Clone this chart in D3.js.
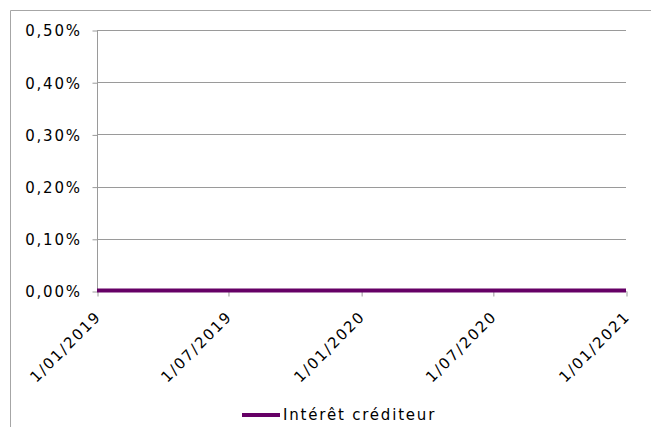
<!DOCTYPE html>
<html>
<head>
<meta charset="utf-8">
<script src="https://cdnjs.cloudflare.com/ajax/libs/d3/7.8.5/d3.min.js"></script>
<style>
  body { margin: 0; background: #fff; }
  svg { display: block; }
  text { font-family: "DejaVu Sans", Verdana, sans-serif; font-size: 15px; letter-spacing: 1.8px; fill: #000; }
</style>
</head>
<body>
<script>
// series: monthly dates and the credit interest rate (all zero)
const dates = ['2019-01-01', '2019-02-01', '2019-03-01', '2019-04-01', '2019-05-01', '2019-06-01',
    '2019-07-01', '2019-08-01', '2019-09-01', '2019-10-01', '2019-11-01', '2019-12-01',
    '2020-01-01', '2020-02-01', '2020-03-01', '2020-04-01', '2020-05-01', '2020-06-01',
    '2020-07-01', '2020-08-01', '2020-09-01', '2020-10-01', '2020-11-01', '2020-12-01',
    '2021-01-01'];
const rates = [0, 0, 0, 0, 0, 0, 0, 0, 0, 0, 0, 0, 0, 0, 0, 0, 0, 0, 0, 0, 0, 0, 0, 0, 0];
const xTicks = ['2019-01-01', '2019-07-01', '2020-01-01', '2020-07-01', '2021-01-01'];
const yTicks = [0, 0.001, 0.002, 0.003, 0.004, 0.005];
const seriesName = 'Intérêt créditeur';

const W = 651, H = 427;
const plot = { left: 97, right: 626, top: 30, bottom: 291 };
const parse = d3.timeParse('%Y-%m-%d');
const data = dates.map((d, i) => ({ date: parse(d), value: rates[i] }));

const svg = d3.select('body').append('svg')
    .attr('width', W)
    .attr('height', H);

// outer chart border (top and left only visible)
svg.append('path')
    .attr('d', `M10.5,${H} V10.5 H${W}`)
    .attr('fill', 'none')
    .attr('stroke', '#a6a6a6')
    .attr('stroke-width', 1);

const x = d3.scaleTime()
    .domain([parse(xTicks[0]), parse(xTicks[xTicks.length - 1])])
    .range([plot.left, plot.right]);
const y = d3.scaleLinear()
    .domain([0, 0.005])
    .range([plot.bottom, plot.top]);

const pct = (v) => d3.format('.2f')(v * 100).replace('.', ',') + '%';

// gridlines
svg.append('g').attr('class', 'grid')
    .selectAll('line').data(yTicks).join('line')
    .attr('x1', plot.left).attr('x2', plot.right)
    .attr('y1', (d) => Math.round(y(d)) + 0.5).attr('y2', (d) => Math.round(y(d)) + 0.5)
    .attr('stroke', '#9a9a9a');

// y axis
const yAxis = svg.append('g')
    .attr('transform', `translate(${plot.left + 0.5},0.5)`)
    .call(d3.axisLeft(y).tickValues(yTicks).tickFormat(pct).tickSize(5));
yAxis.attr('font-size', null).attr('font-family', null);
yAxis.select('.domain').attr('stroke', '#9a9a9a').attr('d', `M0,${plot.top}V${plot.bottom}`);
yAxis.selectAll('.tick line').attr('stroke', '#9a9a9a');
yAxis.selectAll('.tick text').attr('x', -15.7).attr('dy', '0.36em');

// x axis
const xAxis = svg.append('g')
    .attr('transform', `translate(0.5,${plot.bottom + 0.5})`)
    .call(d3.axisBottom(x).tickValues(xTicks.map(parse)).tickFormat(d3.timeFormat('%-d/%m/%Y')).tickSize(5));
xAxis.attr('font-size', null).attr('font-family', null);
xAxis.select('.domain').attr('stroke', '#9a9a9a').attr('d', `M${plot.left},0H${plot.right}`);
xAxis.selectAll('.tick line').attr('stroke', '#9a9a9a');
xAxis.selectAll('.tick text')
    .attr('text-anchor', 'end')
    .attr('y', 0).attr('dy', null)
    .attr('transform', 'translate(4,26) rotate(-45)');

// series line
svg.append('path')
    .datum(data)
    .attr('fill', 'none')
    .attr('stroke', '#660066')
    .attr('stroke-width', 4)
    .attr('d', d3.line().x((d) => x(d.date)).y((d) => y(d.value) - 0.5));

// legend
const legend = svg.append('g').attr('transform', 'translate(242,415)');
legend.append('line')
    .attr('x1', 0).attr('x2', 38)
    .attr('stroke', '#660066').attr('stroke-width', 4);
legend.append('text')
    .attr('x', 41).attr('dy', '0.36em')
    .text(seriesName);
</script>
</body>
</html>
